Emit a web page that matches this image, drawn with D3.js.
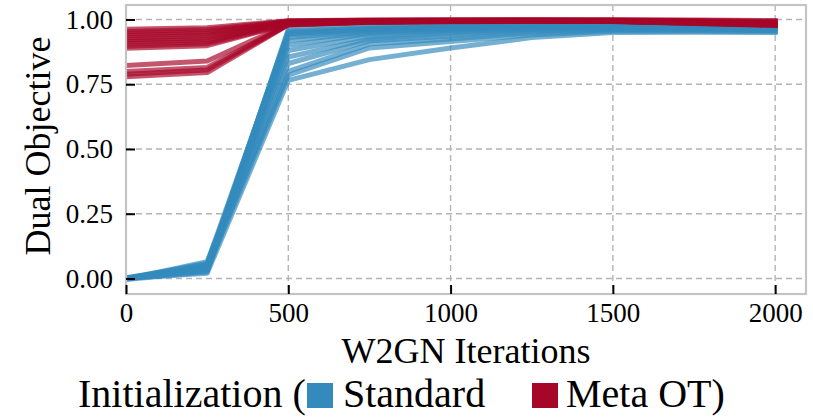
<!DOCTYPE html>
<html>
<head>
<meta charset="utf-8">
<script src="https://cdn.jsdelivr.net/npm/d3@7"></script>
<style>
  html, body { margin: 0; padding: 0; background: #ffffff; }
  svg { display: block; }
  text { font-family: "Liberation Serif", "Times New Roman", serif; fill: #000; }
</style>
</head>
<body>
<svg id="chart" width="813" height="417"></svg>
<script>
// W2GN iterations at which the dual objective was recorded
const iterations = [0, 250, 500, 750, 1000, 1250, 1500, 1750, 2000];

// Dual objective per run, standard initialization
const standardRuns = [
  [ 0.000, 0.030, 0.962, 0.972, 0.976, 0.978, 0.980, 0.980, 0.980],
  [-0.003, 0.040, 0.956, 0.968, 0.973, 0.977, 0.979, 0.979, 0.978],
  [ 0.002, 0.050, 0.950, 0.965, 0.972, 0.976, 0.978, 0.977, 0.976],
  [-0.002, 0.060, 0.945, 0.962, 0.970, 0.975, 0.977, 0.976, 0.975],
  [ 0.001, 0.035, 0.940, 0.960, 0.968, 0.973, 0.976, 0.975, 0.973],
  [ 0.000, 0.045, 0.930, 0.955, 0.965, 0.971, 0.974, 0.973, 0.971],
  [-0.004, 0.025, 0.918, 0.950, 0.962, 0.969, 0.972, 0.971, 0.969],
  [ 0.003, 0.055, 0.900, 0.945, 0.958, 0.966, 0.970, 0.969, 0.967],
  [ 0.000, 0.040, 0.880, 0.935, 0.952, 0.963, 0.968, 0.967, 0.965],
  [-0.002, 0.065, 0.855, 0.925, 0.945, 0.960, 0.966, 0.965, 0.963],
  [ 0.002, 0.030, 0.830, 0.918, 0.935, 0.955, 0.963, 0.962, 0.960],
  [ 0.000, 0.050, 0.800, 0.905, 0.925, 0.948, 0.960, 0.959, 0.957],
  [-0.001, 0.035, 0.785, 0.890, 0.915, 0.940, 0.955, 0.955, 0.953],
  [ 0.001, 0.020, 0.765, 0.845, 0.890, 0.930, 0.950, 0.951, 0.950]
];

// Dual objective per run, Meta OT initialization
const metaOtRuns = [
  [0.962, 0.968, 0.995, 0.998, 0.999, 0.999, 0.999, 0.998, 0.996],
  [0.954, 0.961, 0.994, 0.997, 0.998, 0.998, 0.998, 0.996, 0.993],
  [0.946, 0.953, 0.993, 0.996, 0.997, 0.998, 0.997, 0.995, 0.991],
  [0.938, 0.946, 0.991, 0.995, 0.996, 0.997, 0.996, 0.993, 0.988],
  [0.930, 0.938, 0.990, 0.994, 0.996, 0.996, 0.995, 0.991, 0.985],
  [0.922, 0.930, 0.988, 0.993, 0.995, 0.996, 0.995, 0.990, 0.983],
  [0.914, 0.922, 0.986, 0.992, 0.994, 0.995, 0.994, 0.988, 0.981],
  [0.906, 0.914, 0.985, 0.991, 0.993, 0.994, 0.993, 0.987, 0.979],
  [0.897, 0.906, 0.983, 0.991, 0.993, 0.994, 0.993, 0.986, 0.978],
  [0.889, 0.899, 0.982, 0.990, 0.993, 0.994, 0.993, 0.987, 0.980],
  [0.822, 0.840, 0.982, 0.990, 0.993, 0.994, 0.993, 0.987, 0.980],
  [0.799, 0.815, 0.981, 0.990, 0.992, 0.994, 0.993, 0.988, 0.982],
  [0.789, 0.805, 0.980, 0.989, 0.992, 0.993, 0.992, 0.986, 0.979],
  [0.779, 0.795, 0.979, 0.988, 0.991, 0.993, 0.992, 0.985, 0.977]
];

const xTicks = [0, 500, 1000, 1500, 2000];
const yTicks = [0.00, 0.25, 0.50, 0.75, 1.00];
const seriesNames = ["Standard", "Meta OT"];
const seriesColors = ["#348ABD", "#A60628"];

const svg = d3.select("#chart");
const plot = { left: 126, right: 806, top: 5, bottom: 294 };

const x = d3.scaleLinear().domain([0, 2095]).range([plot.left, plot.right]);
const y = d3.scaleLinear().domain([-0.06, 1.056]).range([plot.bottom, plot.top]);

svg.append("defs").append("clipPath").attr("id", "plot-clip")
  .append("rect")
  .attr("x", plot.left).attr("y", plot.top)
  .attr("width", plot.right - plot.left).attr("height", plot.bottom - plot.top);

// dashed grid
const grid = svg.append("g").attr("stroke", "#b4b4b4").attr("stroke-width", 1.4)
  .attr("stroke-dasharray", "6,4");
grid.selectAll("line.gx").data(xTicks).join("line")
  .attr("x1", d => x(d)).attr("x2", d => x(d))
  .attr("y1", plot.top).attr("y2", plot.bottom);
grid.selectAll("line.gy").data(yTicks).join("line")
  .attr("x1", plot.left).attr("x2", plot.right)
  .attr("y1", d => y(d)).attr("y2", d => y(d));

// one line per run
const line = d3.line().x((d, i) => x(iterations[i])).y(d => y(d));
const lines = svg.append("g").attr("clip-path", "url(#plot-clip)");
[standardRuns, metaOtRuns].forEach((runs, k) => {
  lines.append("g").selectAll("path").data(runs).join("path")
    .attr("d", line)
    .attr("fill", "none")
    .attr("stroke", seriesColors[k])
    .attr("stroke-width", 5)
    .attr("stroke-opacity", 0.68)
    .attr("stroke-linejoin", "round")
    .attr("stroke-linecap", "square");
});

// frame
svg.append("rect")
  .attr("x", plot.left).attr("y", plot.top)
  .attr("width", plot.right - plot.left).attr("height", plot.bottom - plot.top)
  .attr("fill", "none").attr("stroke", "#c4c4c4").attr("stroke-width", 2.2);

// axes with inward ticks
const xAxis = svg.append("g").attr("transform", `translate(0,${plot.bottom})`)
  .call(d3.axisBottom(x).tickValues(xTicks).tickFormat(d3.format("d"))
    .tickSizeInner(-9).tickSizeOuter(0).tickPadding(20));
const yAxis = svg.append("g").attr("transform", `translate(${plot.left},0)`)
  .call(d3.axisLeft(y).tickValues(yTicks).tickFormat(d3.format(".2f"))
    .tickSizeInner(-9).tickSizeOuter(0).tickPadding(13));
[xAxis, yAxis].forEach(a => {
  a.select(".domain").remove();
  a.selectAll(".tick line").attr("stroke", "#000").attr("stroke-width", 2);
  a.selectAll(".tick text").attr("font-size", 27)
    .attr("font-family", "Liberation Serif, serif").attr("fill", "#000");
});
xAxis.selectAll(".tick text").attr("dy", "0.71em").attr("y", 9);

// axis titles
svg.append("text").attr("x", (plot.left + plot.right) / 2).attr("y", 363)
  .attr("text-anchor", "middle").attr("font-size", 36).text("W2GN Iterations");
svg.append("text").attr("transform", "translate(50,146) rotate(-90)")
  .attr("text-anchor", "middle").attr("font-size", 36).text("Dual Objective");

// legend
const legend = svg.append("g").attr("font-size", 40);
legend.append("text").attr("x", 78).attr("y", 407).text("Initialization (");
const legendItems = [
  { sx: 307, tx: 343, label: seriesNames[0], color: seriesColors[0] },
  { sx: 532, tx: 566, label: seriesNames[1] + ")", color: seriesColors[1] }
];
legendItems.forEach(it => {
  legend.append("rect").attr("x", it.sx).attr("y", 383).attr("width", 26).attr("height", 25)
    .attr("fill", it.color);
  legend.append("text").attr("x", it.tx).attr("y", 407).text(it.label);
});
</script>
</body>
</html>
